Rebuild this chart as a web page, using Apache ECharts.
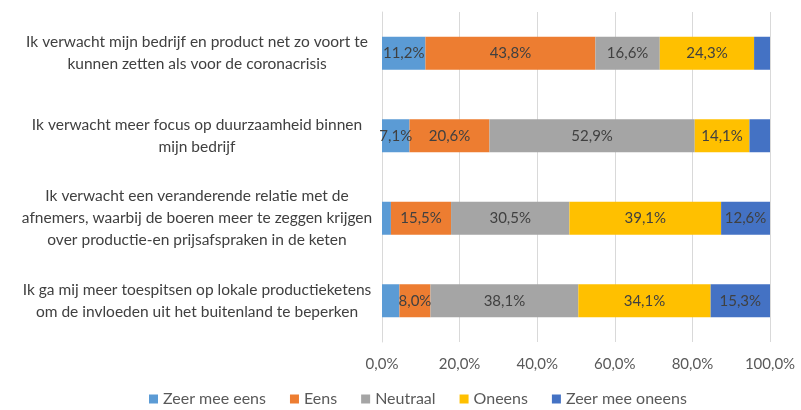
<!DOCTYPE html>
<html>
<head>
<meta charset="utf-8">
<script src="https://cdn.jsdelivr.net/npm/echarts@6/dist/echarts.min.js"></script>
<style>
    html, body { margin: 0; padding: 0; background: #fff; }
    #main { width: 801px; height: 410px; }
</style>
</head>
<body>
<div id="main"></div>
<script>
    // stellingen (van boven naar beneden)
    var categories = [
        'Ik verwacht mijn bedrijf en product net zo voort te\nkunnen zetten als voor de coronacrisis',
        'Ik verwacht meer focus op duurzaamheid binnen\nmijn bedrijf',
        'Ik verwacht een veranderende relatie met de\nafnemers, waarbij de boeren meer te zeggen krijgen\nover productie-en prijsafspraken in de keten',
        'Ik ga mij meer toespitsen op lokale productieketens\nom de invloeden uit het buitenland te beperken'
    ];
    var seriesNames = ['Zeer mee eens', 'Eens', 'Neutraal', 'Oneens', 'Zeer mee oneens'];
    var zeerMeeEens = [11.2, 7.1, 2.3, 4.5];
    var eens = [43.8, 20.6, 15.5, 8.0];
    var neutraal = [16.6, 52.9, 30.5, 38.1];
    var oneens = [24.3, 14.1, 39.1, 34.1];
    var zeerMeeOneens = [4.1, 5.3, 12.6, 15.3];
    var tickLabels = ['0,0%', '20,0%', '40,0%', '60,0%', '80,0%', '100,0%'];

    var colors = ['#5B9BD5', '#ED7D31', '#A5A5A5', '#FFC000', '#4472C4'];
    var values = [zeerMeeEens, eens, neutraal, oneens, zeerMeeOneens];
    var font = 'Lato, "Open Sans", sans-serif';

    function pct(v) {
        return v.toFixed(1).replace('.', ',') + '%';
    }

    var chart = echarts.init(document.getElementById('main'));
    chart.setOption({
        animation: false,
        color: colors,
        textStyle: { fontFamily: font },
        grid: { left: 382, right: 31, top: 12, bottom: 68 },
        legend: {
            bottom: -2,
            left: 144,
            itemWidth: 9,
            itemHeight: 9,
            itemGap: 24,
            icon: 'rect',
            textStyle: { fontSize: 16, color: '#595959', fontFamily: font },
            data: seriesNames
        },
        xAxis: {
            type: 'value',
            min: 0,
            max: 100,
            interval: 20,
            axisLine: { show: false },
            axisTick: { show: false },
            splitLine: { lineStyle: { color: '#D9D9D9', width: 1 } },
            axisLabel: {
                margin: 15,
                fontSize: 15,
                color: '#595959',
                fontFamily: font,
                formatter: function (v) { return tickLabels[Math.round(v / 20)]; }
            }
        },
        yAxis: {
            type: 'category',
            inverse: true,
            data: categories,
            axisLine: { show: true, lineStyle: { color: '#D9D9D9' } },
            axisTick: { show: false },
            axisLabel: {
                margin: 185,
                align: 'center',
                fontSize: 15.5,
                lineHeight: 22,
                color: '#404040',
                fontFamily: font
            }
        },
        series: seriesNames.map(function (name, i) {
            return {
                name: name,
                type: 'bar',
                stack: 'totaal',
                barWidth: 33,
                data: values[i],
                label: {
                    show: true,
                    position: 'inside',
                    fontSize: 15,
                    color: '#404040',
                    fontFamily: font,
                    formatter: function (p) { return p.value < 6 ? '' : pct(p.value); }
                }
            };
        })
    });
</script>
</body>
</html>
